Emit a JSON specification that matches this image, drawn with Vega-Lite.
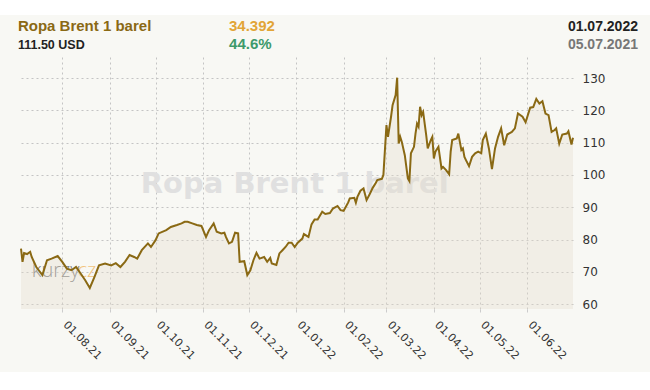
{
  "$schema": "https://vega.github.io/schema/vega-lite/v6.json",
  "width": 552,
  "height": 252,
  "autosize": {"type": "none"},
  "padding": {"left": 21, "top": 57, "right": 77, "bottom": 81},
  "background": "#f8f8f4",
  "config": {"view": {"stroke": null}, "font": "DejaVu Sans"},
  "resolve": {"axis": {"x": "independent", "y": "independent"}},
  "datasets": {
    "brent": [
      {"date": "2021-07-05", "price": 77.2},
      {"date": "2021-07-06", "price": 73.1},
      {"date": "2021-07-07", "price": 75.8},
      {"date": "2021-07-09", "price": 75.5},
      {"date": "2021-07-11", "price": 76.2},
      {"date": "2021-07-12", "price": 74.6},
      {"date": "2021-07-15", "price": 71.5},
      {"date": "2021-07-19", "price": 69.0},
      {"date": "2021-07-22", "price": 73.6},
      {"date": "2021-07-25", "price": 74.1},
      {"date": "2021-07-29", "price": 74.9},
      {"date": "2021-08-01", "price": 73.1},
      {"date": "2021-08-04", "price": 71.0},
      {"date": "2021-08-07", "price": 70.5},
      {"date": "2021-08-10", "price": 71.5},
      {"date": "2021-08-13", "price": 69.5},
      {"date": "2021-08-16", "price": 67.4},
      {"date": "2021-08-19", "price": 65.0},
      {"date": "2021-08-22", "price": 68.4},
      {"date": "2021-08-25", "price": 72.0},
      {"date": "2021-08-29", "price": 72.6},
      {"date": "2021-09-02", "price": 72.0},
      {"date": "2021-09-05", "price": 72.7},
      {"date": "2021-09-08", "price": 71.5},
      {"date": "2021-09-11", "price": 73.1},
      {"date": "2021-09-14", "price": 75.2},
      {"date": "2021-09-17", "price": 74.6},
      {"date": "2021-09-19", "price": 74.1},
      {"date": "2021-09-22", "price": 76.7},
      {"date": "2021-09-26", "price": 78.8},
      {"date": "2021-09-28", "price": 77.7},
      {"date": "2021-10-01", "price": 79.8},
      {"date": "2021-10-03", "price": 81.9},
      {"date": "2021-10-08", "price": 82.9},
      {"date": "2021-10-11", "price": 83.9},
      {"date": "2021-10-15", "price": 84.5},
      {"date": "2021-10-18", "price": 85.0},
      {"date": "2021-10-20", "price": 85.5},
      {"date": "2021-10-22", "price": 85.5},
      {"date": "2021-10-25", "price": 85.0},
      {"date": "2021-10-28", "price": 84.5},
      {"date": "2021-10-31", "price": 84.2},
      {"date": "2021-11-03", "price": 80.8},
      {"date": "2021-11-05", "price": 82.9},
      {"date": "2021-11-08", "price": 85.0},
      {"date": "2021-11-10", "price": 82.4},
      {"date": "2021-11-13", "price": 81.9},
      {"date": "2021-11-15", "price": 82.1},
      {"date": "2021-11-16", "price": 80.8},
      {"date": "2021-11-18", "price": 78.8},
      {"date": "2021-11-20", "price": 79.3},
      {"date": "2021-11-22", "price": 82.1},
      {"date": "2021-11-24", "price": 81.9},
      {"date": "2021-11-25", "price": 73.1},
      {"date": "2021-11-28", "price": 73.3},
      {"date": "2021-11-30", "price": 69.0},
      {"date": "2021-12-02", "price": 70.5},
      {"date": "2021-12-04", "price": 73.6},
      {"date": "2021-12-06", "price": 75.9},
      {"date": "2021-12-08", "price": 74.1},
      {"date": "2021-12-11", "price": 74.6},
      {"date": "2021-12-13", "price": 73.1},
      {"date": "2021-12-15", "price": 74.3},
      {"date": "2021-12-16", "price": 72.6},
      {"date": "2021-12-19", "price": 72.1},
      {"date": "2021-12-21", "price": 75.7},
      {"date": "2021-12-23", "price": 76.7},
      {"date": "2021-12-25", "price": 77.7},
      {"date": "2021-12-27", "price": 79.0},
      {"date": "2021-12-29", "price": 79.0},
      {"date": "2021-12-31", "price": 77.7},
      {"date": "2022-01-02", "price": 79.0},
      {"date": "2022-01-05", "price": 80.3},
      {"date": "2022-01-06", "price": 81.7},
      {"date": "2022-01-09", "price": 80.8},
      {"date": "2022-01-11", "price": 84.7},
      {"date": "2022-01-13", "price": 86.2},
      {"date": "2022-01-15", "price": 86.2},
      {"date": "2022-01-18", "price": 88.6},
      {"date": "2022-01-20", "price": 87.9},
      {"date": "2022-01-23", "price": 88.2},
      {"date": "2022-01-25", "price": 89.6},
      {"date": "2022-01-28", "price": 90.4},
      {"date": "2022-01-30", "price": 89.1},
      {"date": "2022-02-01", "price": 88.9},
      {"date": "2022-02-04", "price": 91.5},
      {"date": "2022-02-05", "price": 92.7},
      {"date": "2022-02-08", "price": 92.9},
      {"date": "2022-02-09", "price": 91.4},
      {"date": "2022-02-10", "price": 93.2},
      {"date": "2022-02-12", "price": 95.1},
      {"date": "2022-02-14", "price": 95.8},
      {"date": "2022-02-16", "price": 92.2},
      {"date": "2022-02-18", "price": 94.0},
      {"date": "2022-02-20", "price": 96.0},
      {"date": "2022-02-22", "price": 97.5},
      {"date": "2022-02-23", "price": 98.4},
      {"date": "2022-02-26", "price": 98.8},
      {"date": "2022-02-27", "price": 100.0},
      {"date": "2022-03-01", "price": 115.4},
      {"date": "2022-03-02", "price": 111.8},
      {"date": "2022-03-04", "price": 118.0},
      {"date": "2022-03-05", "price": 121.6},
      {"date": "2022-03-07", "price": 124.7},
      {"date": "2022-03-08", "price": 130.1},
      {"date": "2022-03-09", "price": 109.7},
      {"date": "2022-03-10", "price": 111.8},
      {"date": "2022-03-11", "price": 110.3},
      {"date": "2022-03-13", "price": 106.1},
      {"date": "2022-03-15", "price": 98.9},
      {"date": "2022-03-16", "price": 98.1},
      {"date": "2022-03-17", "price": 106.7},
      {"date": "2022-03-19", "price": 108.7},
      {"date": "2022-03-20", "price": 112.8},
      {"date": "2022-03-21", "price": 115.9},
      {"date": "2022-03-22", "price": 114.9},
      {"date": "2022-03-23", "price": 121.1},
      {"date": "2022-03-24", "price": 118.5},
      {"date": "2022-03-25", "price": 119.5},
      {"date": "2022-03-26", "price": 115.9},
      {"date": "2022-03-27", "price": 112.3},
      {"date": "2022-03-28", "price": 108.2},
      {"date": "2022-03-30", "price": 110.8},
      {"date": "2022-03-31", "price": 111.8},
      {"date": "2022-04-01", "price": 105.1},
      {"date": "2022-04-02", "price": 107.2},
      {"date": "2022-04-04", "price": 108.7},
      {"date": "2022-04-06", "price": 102.0},
      {"date": "2022-04-07", "price": 102.5},
      {"date": "2022-04-09", "price": 101.5},
      {"date": "2022-04-11", "price": 100.2},
      {"date": "2022-04-12", "price": 107.2},
      {"date": "2022-04-13", "price": 110.8},
      {"date": "2022-04-16", "price": 111.3},
      {"date": "2022-04-17", "price": 112.8},
      {"date": "2022-04-19", "price": 107.7},
      {"date": "2022-04-20", "price": 108.2},
      {"date": "2022-04-21", "price": 105.6},
      {"date": "2022-04-22", "price": 104.6},
      {"date": "2022-04-24", "price": 102.7},
      {"date": "2022-04-26", "price": 105.6},
      {"date": "2022-04-28", "price": 106.7},
      {"date": "2022-04-30", "price": 107.2},
      {"date": "2022-05-02", "price": 106.7},
      {"date": "2022-05-03", "price": 110.8},
      {"date": "2022-05-05", "price": 112.8},
      {"date": "2022-05-07", "price": 108.2},
      {"date": "2022-05-09", "price": 101.8},
      {"date": "2022-05-11", "price": 108.2},
      {"date": "2022-05-13", "price": 111.8},
      {"date": "2022-05-15", "price": 114.4},
      {"date": "2022-05-17", "price": 109.2},
      {"date": "2022-05-19", "price": 112.5},
      {"date": "2022-05-22", "price": 113.3},
      {"date": "2022-05-24", "price": 114.4},
      {"date": "2022-05-26", "price": 119.0},
      {"date": "2022-05-29", "price": 118.0},
      {"date": "2022-05-31", "price": 116.3},
      {"date": "2022-06-03", "price": 120.8},
      {"date": "2022-06-05", "price": 121.0},
      {"date": "2022-06-07", "price": 123.5},
      {"date": "2022-06-09", "price": 122.1},
      {"date": "2022-06-11", "price": 122.8},
      {"date": "2022-06-13", "price": 119.0},
      {"date": "2022-06-15", "price": 118.5},
      {"date": "2022-06-17", "price": 113.3},
      {"date": "2022-06-19", "price": 113.9},
      {"date": "2022-06-20", "price": 114.4},
      {"date": "2022-06-22", "price": 109.7},
      {"date": "2022-06-24", "price": 112.5},
      {"date": "2022-06-27", "price": 112.8},
      {"date": "2022-06-28", "price": 113.5},
      {"date": "2022-06-30", "price": 109.4},
      {"date": "2022-07-01", "price": 111.5}
    ]
  },
  "layer": [
    {
      "data": {"values": [{"k": "top"}]},
      "mark": {"type": "rect", "fill": "white"},
      "encoding": {
        "x": {"datum": {"year": 2021, "month": 6, "date": 15, "utc": true}, "type": "temporal", "axis": null,
              "scale": {"type": "utc", "domain": [{"year": 2021, "month": 7, "date": 5, "utc": true}, {"year": 2022, "month": 7, "date": 1, "utc": true}]}},
        "x2": {"datum": {"year": 2022, "month": 9, "date": 1, "utc": true}},
        "y": {"datum": 149.5, "type": "quantitative", "axis": null, "scale": {"domain": [58.5, 136.5], "zero": false, "nice": false}},
        "y2": {"datum": 160}
      }
    },
    {
      "data": {"values": [{"k": "bottom"}]},
      "mark": {"type": "rect", "fill": "white"},
      "encoding": {
        "x": {"datum": {"year": 2021, "month": 6, "date": 15, "utc": true}, "type": "temporal", "axis": null,
              "scale": {"type": "utc", "domain": [{"year": 2021, "month": 7, "date": 5, "utc": true}, {"year": 2022, "month": 7, "date": 1, "utc": true}]}},
        "x2": {"datum": {"year": 2022, "month": 9, "date": 1, "utc": true}},
        "y": {"datum": 39, "type": "quantitative", "axis": null, "scale": {"domain": [58.5, 136.5], "zero": false, "nice": false}},
        "y2": {"datum": 30}
      }
    },
    {
      "data": {"values": [{"t": "Ropa Brent 1 barel"}]},
      "mark": {"type": "text", "font": "DejaVu Sans", "fontWeight": "bold", "fontSize": 29, "color": "#e0e0e0", "align": "center", "baseline": "alphabetic"},
      "encoding": {
        "x": {"datum": {"year": 2021, "month": 12, "date": 31, "utc": true}, "type": "temporal", "axis": null,
              "scale": {"type": "utc", "domain": [{"year": 2021, "month": 7, "date": 5, "utc": true}, {"year": 2022, "month": 7, "date": 1, "utc": true}]}},
        "y": {"datum": 94.4, "type": "quantitative", "axis": null, "scale": {"domain": [58.5, 136.5], "zero": false, "nice": false}},
        "text": {"field": "t"}
      }
    },
    {
      "data": {"values": [{"t": "kurzy"}]},
      "mark": {"type": "text", "font": "Open Sans", "fontWeight": 300, "fontSize": 20, "color": "#808080", "align": "left", "baseline": "alphabetic"},
      "encoding": {
        "x": {"datum": {"year": 2021, "month": 7, "date": 12, "utc": true}, "type": "temporal", "axis": null,
              "scale": {"type": "utc", "domain": [{"year": 2021, "month": 7, "date": 5, "utc": true}, {"year": 2022, "month": 7, "date": 1, "utc": true}]}},
        "y": {"datum": 68.4, "type": "quantitative", "axis": null, "scale": {"domain": [58.5, 136.5], "zero": false, "nice": false}},
        "text": {"field": "t"}
      }
    },
    {
      "data": {"values": [{"t": "cz"}]},
      "mark": {"type": "text", "font": "Open Sans", "fontWeight": 300, "fontSize": 20, "color": "#f2c47e", "align": "left", "baseline": "alphabetic"},
      "encoding": {
        "x": {"datum": {"year": 2021, "month": 8, "date": 11, "utc": true}, "type": "temporal", "axis": null,
              "scale": {"type": "utc", "domain": [{"year": 2021, "month": 7, "date": 5, "utc": true}, {"year": 2022, "month": 7, "date": 1, "utc": true}]}},
        "y": {"datum": 68.4, "type": "quantitative", "axis": null, "scale": {"domain": [58.5, 136.5], "zero": false, "nice": false}},
        "text": {"field": "t"}
      }
    },
    {
      "data": {"name": "brent"},
      "mark": {"type": "area", "color": "#e4dccb", "opacity": 0.35},
      "encoding": {
        "x": {"field": "date", "type": "temporal", "axis": null,
              "scale": {"type": "utc", "domain": [{"year": 2021, "month": 7, "date": 5, "utc": true}, {"year": 2022, "month": 7, "date": 1, "utc": true}]}},
        "y": {"field": "price", "type": "quantitative", "axis": null, "scale": {"domain": [58.5, 136.5], "zero": false, "nice": false}},
        "y2": {"datum": 58.5}
      }
    },
    {
      "data": {"name": "brent"},
      "mark": {"type": "line", "color": "#8a6914", "strokeWidth": 2},
      "encoding": {
        "x": {"field": "date", "type": "temporal",
              "scale": {"type": "utc", "domain": [{"year": 2021, "month": 7, "date": 5, "utc": true}, {"year": 2022, "month": 7, "date": 1, "utc": true}]},
              "axis": {
                "title": null,
                "values": [
                  {"year": 2021, "month": 8, "date": 1, "utc": true},
                  {"year": 2021, "month": 9, "date": 1, "utc": true},
                  {"year": 2021, "month": 10, "date": 1, "utc": true},
                  {"year": 2021, "month": 11, "date": 1, "utc": true},
                  {"year": 2021, "month": 12, "date": 1, "utc": true},
                  {"year": 2022, "month": 1, "date": 1, "utc": true},
                  {"year": 2022, "month": 2, "date": 1, "utc": true},
                  {"year": 2022, "month": 3, "date": 1, "utc": true},
                  {"year": 2022, "month": 4, "date": 1, "utc": true},
                  {"year": 2022, "month": 5, "date": 1, "utc": true},
                  {"year": 2022, "month": 6, "date": 1, "utc": true}
                ],
                "format": "%d.%m.%y",
                "labelAngle": 45,
                "labelAlign": "left",
                "labelBaseline": "alphabetic",
                "labelOverlap": false,
                "labelFlush": false,
                "labelPadding": 13,
                "labelFont": "DejaVu Sans",
                "labelFontSize": 11,
                "labelColor": "#333333",
                "grid": true,
                "gridDash": [2, 3],
                "gridColor": "#c4c4c4",
                "domain": false,
                "tickSize": 3,
                "tickColor": "#cccccc"
              }},
        "y": {"field": "price", "type": "quantitative",
              "scale": {"domain": [58.5, 136.5], "zero": false, "nice": false},
              "axis": {
                "title": null,
                "orient": "right",
                "values": [60, 70, 80, 90, 100, 110, 120, 130],
                "grid": true,
                "gridDash": [2, 3],
                "gridColor": "#c4c4c4",
                "domain": false,
                "ticks": false,
                "labelPadding": 9,
                "labelFont": "DejaVu Sans",
                "labelFontSize": 12,
                "labelColor": "#333333"
              }}
      }
    },
    {
      "data": {"values": [{"t": "Ropa Brent 1 barel"}]},
      "mark": {"type": "text", "font": "Liberation Sans", "fontWeight": "bold", "fontSize": 15, "color": "#8a6914", "align": "left", "baseline": "alphabetic"},
      "encoding": {
        "x": {"datum": {"year": 2021, "month": 7, "date": 3, "utc": true}, "type": "temporal", "axis": null,
              "scale": {"type": "utc", "domain": [{"year": 2021, "month": 7, "date": 5, "utc": true}, {"year": 2022, "month": 7, "date": 1, "utc": true}]}},
        "y": {"datum": 144.55, "type": "quantitative", "axis": null, "scale": {"domain": [58.5, 136.5], "zero": false, "nice": false}},
        "text": {"field": "t"}
      }
    },
    {
      "data": {"values": [{"t": "111.50 USD"}]},
      "mark": {"type": "text", "font": "Liberation Sans", "fontWeight": "bold", "fontSize": 12.5, "color": "#222222", "align": "left", "baseline": "alphabetic"},
      "encoding": {
        "x": {"datum": {"year": 2021, "month": 7, "date": 3, "utc": true}, "type": "temporal", "axis": null,
              "scale": {"type": "utc", "domain": [{"year": 2021, "month": 7, "date": 5, "utc": true}, {"year": 2022, "month": 7, "date": 1, "utc": true}]}},
        "y": {"datum": 138.98, "type": "quantitative", "axis": null, "scale": {"domain": [58.5, 136.5], "zero": false, "nice": false}},
        "text": {"field": "t"}
      }
    },
    {
      "data": {"values": [{"t": "34.392"}]},
      "mark": {"type": "text", "font": "Liberation Sans", "fontWeight": "bold", "fontSize": 15, "color": "#e2a537", "align": "center", "baseline": "alphabetic"},
      "encoding": {
        "x": {"datum": {"year": 2021, "month": 12, "date": 3, "utc": true}, "type": "temporal", "axis": null,
              "scale": {"type": "utc", "domain": [{"year": 2021, "month": 7, "date": 5, "utc": true}, {"year": 2022, "month": 7, "date": 1, "utc": true}]}},
        "y": {"datum": 144.55, "type": "quantitative", "axis": null, "scale": {"domain": [58.5, 136.5], "zero": false, "nice": false}},
        "text": {"field": "t"}
      }
    },
    {
      "data": {"values": [{"t": "44.6%"}]},
      "mark": {"type": "text", "font": "Liberation Sans", "fontWeight": "bold", "fontSize": 15, "color": "#3d9a6b", "align": "center", "baseline": "alphabetic"},
      "encoding": {
        "x": {"datum": {"year": 2021, "month": 12, "date": 2, "utc": true}, "type": "temporal", "axis": null,
              "scale": {"type": "utc", "domain": [{"year": 2021, "month": 7, "date": 5, "utc": true}, {"year": 2022, "month": 7, "date": 1, "utc": true}]}},
        "y": {"datum": 138.98, "type": "quantitative", "axis": null, "scale": {"domain": [58.5, 136.5], "zero": false, "nice": false}},
        "text": {"field": "t"}
      }
    },
    {
      "data": {"values": [{"t": "01.07.2022"}]},
      "mark": {"type": "text", "font": "Liberation Sans", "fontWeight": "bold", "fontSize": 14, "color": "#222222", "align": "right", "baseline": "alphabetic"},
      "encoding": {
        "x": {"datum": {"year": 2022, "month": 8, "date": 12, "hours": 12, "utc": true}, "type": "temporal", "axis": null,
              "scale": {"type": "utc", "domain": [{"year": 2021, "month": 7, "date": 5, "utc": true}, {"year": 2022, "month": 7, "date": 1, "utc": true}]}},
        "y": {"datum": 144.55, "type": "quantitative", "axis": null, "scale": {"domain": [58.5, 136.5], "zero": false, "nice": false}},
        "text": {"field": "t"}
      }
    },
    {
      "data": {"values": [{"t": "05.07.2021"}]},
      "mark": {"type": "text", "font": "Liberation Sans", "fontWeight": "bold", "fontSize": 14, "color": "#777777", "align": "right", "baseline": "alphabetic"},
      "encoding": {
        "x": {"datum": {"year": 2022, "month": 8, "date": 12, "hours": 12, "utc": true}, "type": "temporal", "axis": null,
              "scale": {"type": "utc", "domain": [{"year": 2021, "month": 7, "date": 5, "utc": true}, {"year": 2022, "month": 7, "date": 1, "utc": true}]}},
        "y": {"datum": 138.98, "type": "quantitative", "axis": null, "scale": {"domain": [58.5, 136.5], "zero": false, "nice": false}},
        "text": {"field": "t"}
      }
    }
  ]
}
